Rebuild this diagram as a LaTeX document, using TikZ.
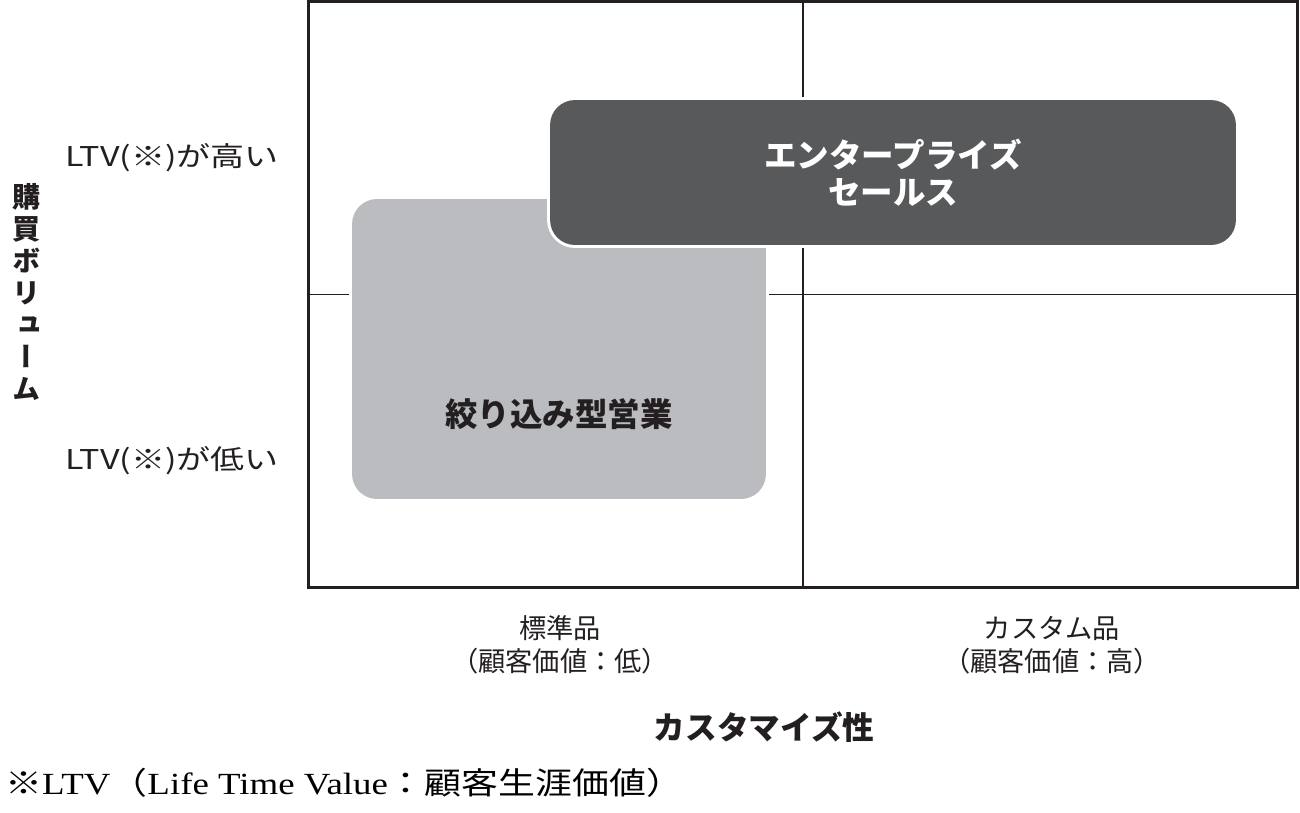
\documentclass[tikz,border=0pt]{standalone}
\usepackage{fontspec}
\setmainfont{Noto Sans CJK JP}
\newfontfamily\widejp[FakeStretch=1.25]{Noto Sans CJK JP}
\newfontfamily\notejp[FakeStretch=1.2]{Noto Sans CJK JP}
\newfontfamily\noteserif[FakeStretch=1.2]{Liberation Serif}
\newfontfamily\vertjp[RawFeature=+vert]{Noto Sans CJK JP}
\usetikzlibrary{positioning,calc}
\definecolor{FrameBlack}{HTML}{231F20}
\definecolor{SlateGrey}{HTML}{58595B}
\definecolor{SilverGrey}{HTML}{BBBCBF}

\begin{document}
\begin{tikzpicture}[
    x=0.02cm, y=-0.02cm,
    chartframe/.style={draw=FrameBlack, line width=1.7pt, minimum width=19.8cm, minimum height=11.74cm, inner sep=0pt},
    divider/.style={draw=FrameBlack, line width=1.1pt},
    zone/.style={rounded corners=0.5cm, inner sep=0pt, preaction={draw=white, line width=0.12cm}},
    zonetext/.style={font=\fontsize{18.5}{21}\selectfont\bfseries, align=center},
    level/.style={font=\fontsize{15.5}{19}\selectfont, text=FrameBlack, align=center},
    axis/.style={font=\fontsize{18}{19}\selectfont\bfseries, text=FrameBlack, align=center}
  ]
    \useasboundingbox (0,0) rectangle (1300,812);
    \node[chartframe] (chart) at (803,294.5) {};
    \draw[divider] (chart.north) -- (chart.south);
    \draw[divider] (chart.west) -- (chart.east);
    \node[zone, fill=SilverGrey, minimum width=8.28cm, minimum height=6cm] (narrow) at (559,349) {};
    \node[zonetext, text=FrameBlack] (narrowlabel) at (559,414) {絞り込み型営業};
    \node[zone, zonetext, fill=SlateGrey, text=white, minimum width=13.72cm, minimum height=2.9cm] (enterprise) at (893,172.5) {エンタープライズ\\セールス};
    \node[level, anchor=east, font=\fontsize{15.5}{19}\selectfont\widejp] (high) at (285,158) {LTV(※)が高い};
    \node[level, anchor=east, font=\fontsize{15.5}{19}\selectfont\widejp] (low) at (285,461) {LTV(※)が低い};
    \node[axis, font=\fontsize{16}{18.2}\selectfont\bfseries\vertjp] (volume) at (27,292) {購\\買\\ボ\\リ\\ュ\\ー\\ム};
    \node[level] (standard) at (560,645) {標準品\\（顧客価値：低）};
    \node[level] (custom) at (1052,645) {カスタム品\\（顧客価値：高）};
    \node[axis] (customize) at (764,727) {カスタマイズ性};
    \node[anchor=west, inner sep=0pt, font=\fontsize{17.5}{20}\selectfont\notejp] (note) at (5,783) {※{\noteserif LTV}（{\noteserif Life Time Value}：顧客生涯価値）};
  \end{tikzpicture}
\end{document}
